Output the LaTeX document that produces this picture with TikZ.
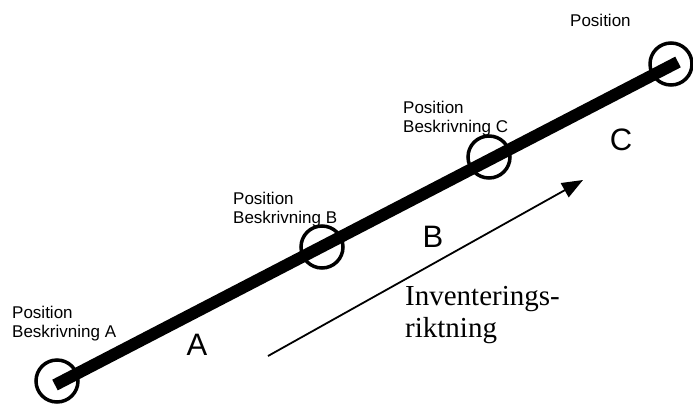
\documentclass[tikz,border=0pt]{standalone}
\usepackage{fontspec}
\setmainfont{Liberation Serif}
\setsansfont{Liberation Sans}
\usetikzlibrary{arrows.meta}
\begin{document}
\begin{tikzpicture}[x=1pt,y=-1pt]
\tikzset{
  posring/.style={circle, draw=black, line width=3.5pt, minimum size=42pt, inner sep=0pt},
  poslabel/.style={anchor=north west, align=left, inner sep=0pt, font=\sffamily\fontsize{17}{19}\selectfont},
  partname/.style={inner sep=0pt, font=\sffamily\fontsize{31}{31}\selectfont},
}
\useasboundingbox (0,0) rectangle (693,405);
% the line and its end points
\coordinate (lineStart) at (55,385);
\coordinate (lineEnd) at (678,62);
\draw[line width=12pt] (lineStart) -- (lineEnd);
\node[posring] (posA) at (57,381) {};
\node[posring] (posB) at (322,247) {};
\node[posring] (posC) at (489,157) {};
\node[posring] (posD) at (671,64) {};
% position texts
\node[poslabel] (txtA) at (12,306) {Position\\Beskrivning A};
\node[poslabel] (txtB) at (233,192) {Position\\Beskrivning B};
\node[poslabel] (txtC) at (403,101) {Position\\Beskrivning C};
\node[poslabel] (txtD) at (570,14) {Position};
% parts of the line
\node[partname] (partA) at (197,345) {A};
\node[partname] (partB) at (433,237) {B};
\node[partname] (partC) at (621,140) {C};
% direction
\coordinate (dirStart) at (268,356);
\coordinate (dirEnd) at (583,180);
\draw[line width=1.8pt, -{Triangle[length=21pt,width=16pt]}] (dirStart) -- (dirEnd);
\node[anchor=north west, align=left, inner sep=0pt, font=\fontsize{29}{32}\selectfont] (dirText) at (405,286) {Inventerings-\\riktning};
\end{tikzpicture}
\end{document}
